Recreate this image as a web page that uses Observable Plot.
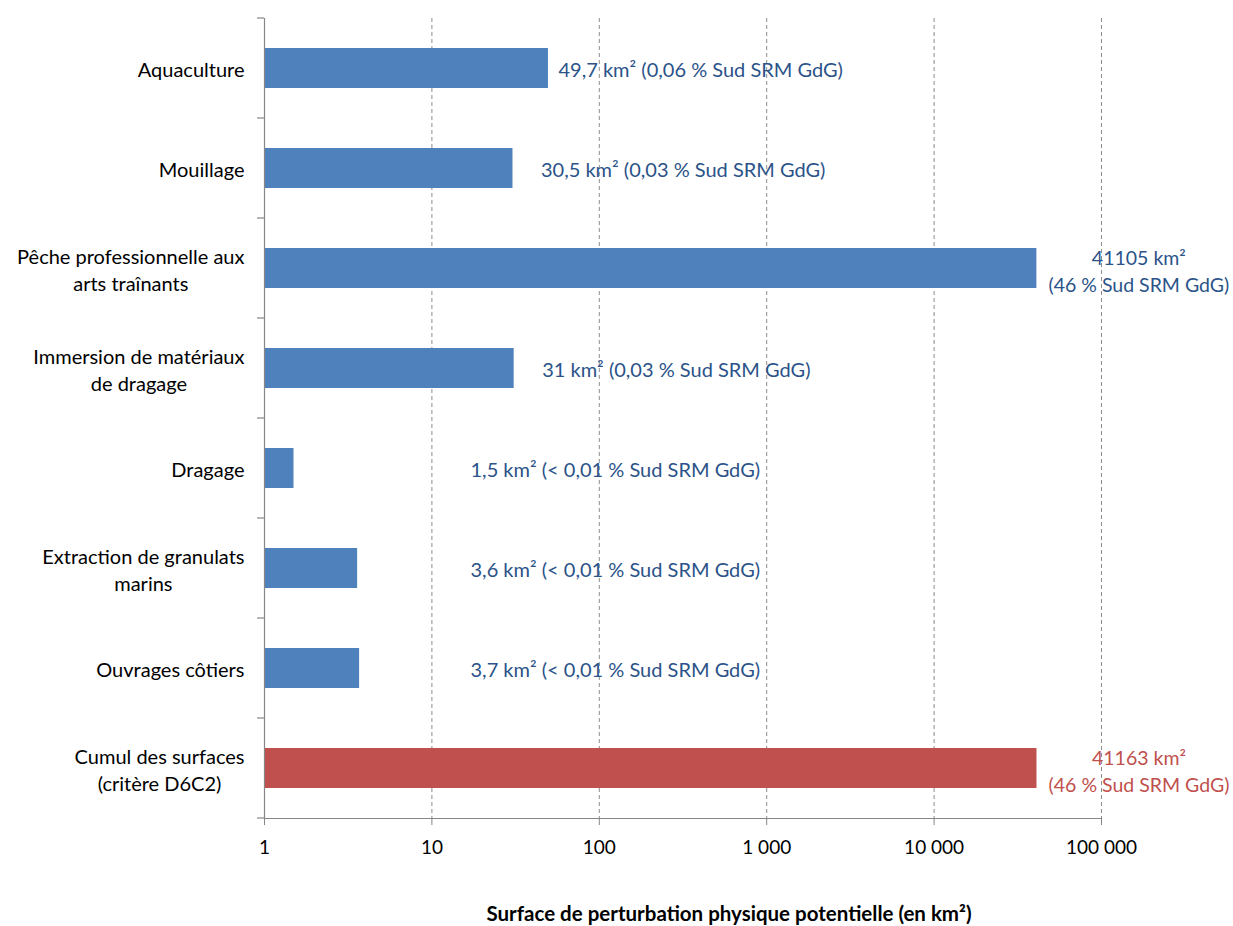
<!DOCTYPE html>
<html><head><meta charset="utf-8">
<script src="https://cdn.jsdelivr.net/npm/d3@7"></script>
<script src="https://cdn.jsdelivr.net/npm/@observablehq/plot@0.6"></script>
<style>body{margin:0;background:#fff;font-family:Lato,sans-serif}</style>
</head><body><div id="chart"></div>
<script>
const categories = [
  "Aquaculture",
  "Mouillage",
  "Pêche professionnelle aux\narts traînants",
  "Immersion de matériaux\nde dragage",
  "Dragage",
  "Extraction de granulats\nmarins",
  "Ouvrages côtiers",
  "Cumul des surfaces\n(critère D6C2)"
];
const values = [49.7, 30.5, 41105, 31, 1.5, 3.6, 3.7, 41163];
const labels = [
  "49,7 km² (0,06 % Sud SRM GdG)",
  "30,5 km² (0,03 % Sud SRM GdG)",
  "41105 km²\n(46 % Sud SRM GdG)",
  "31 km² (0,03 % Sud SRM GdG)",
  "1,5 km² (< 0,01 % Sud SRM GdG)",
  "3,6 km² (< 0,01 % Sud SRM GdG)",
  "3,7 km² (< 0,01 % Sud SRM GdG)",
  "41163 km²\n(46 % Sud SRM GdG)"
];
const xTicks = [1, 10, 100, 1000, 10000, 100000];
const xTitle = "Surface de perturbation physique potentielle (en km²)";

const BLUE = "#4F81BD", RED = "#C0504D", LBLUE = "#2B5389", AXIS = "#868686";
const data = categories.map((c, i) => ({cat: c, value: values[i], label: labels[i], total: c.startsWith("Cumul")}));
const fmt = d3.formatLocale({decimal: ",", thousands: " ", grouping: [3], currency: ["", ""]}).format(",d");

const big = data.filter(d => d.value >= 10000);
const small = data.filter(d => d.value < 10);
const first = data.filter(d => d.value >= 10 && d.value < 10000 && d.cat === "Aquaculture");
const mid = data.filter(d => d.value >= 10 && d.value < 10000 && d.cat !== "Aquaculture");
const LFS = 20;

const plot = Plot.plot({
  width: 1233, height: 926,
  marginLeft: 264, marginRight: 132, marginTop: 18, marginBottom: 108,
  style: {fontFamily: "Lato, sans-serif", fontSize: "20px", color: "#000", background: "#fff"},
  x: {type: "log", domain: [1, 100000]},
  y: {domain: categories, paddingInner: 0.6, paddingOuter: 0.3},
  marks: [
    Plot.gridX({ticks: xTicks.slice(1), stroke: "#8c8c8c", strokeOpacity: 1, strokeDasharray: "4,3"}),
    Plot.barX(data, {x1: 1, x2: "value", y: "cat", fill: d => d.total ? RED : BLUE}),
    Plot.ruleX([1], {stroke: AXIS, strokeWidth: 1.2}),
    Plot.frame({anchor: "bottom", stroke: AXIS, strokeWidth: 1.2}),
    Plot.axisX({ticks: xTicks, tickFormat: fmt, tickSize: 7, tickPadding: 15, stroke: AXIS, strokeOpacity: 1, label: null, fontSize: 19, color: "#000"}),
    Plot.axisY({tickSize: 0, tickPadding: 20, label: null, fontSize: 20, lineHeight: 1.35}),
    Plot.text(first, {x: "value", y: "cat", text: "label", textAnchor: "start", dx: 10, dy: 2, fill: LBLUE, fontSize: LFS}),
    Plot.text(mid, {x: "value", y: "cat", text: "label", textAnchor: "start", dx: 28, dy: 2, fill: LBLUE, fontSize: LFS}),
    Plot.text(small, {x: 1, y: "cat", text: "label", textAnchor: "start", dx: 206, dy: 2, fill: LBLUE, fontSize: LFS}),
    Plot.text(big, {x: "value", y: "cat", text: "label", textAnchor: "middle", dx: 102, dy: 1, lineHeight: 1.4, fill: d => d.total ? RED : LBLUE, fontSize: 19.5}),
    Plot.text([xTitle], {frameAnchor: "bottom", dx: 46, dy: 102, fontWeight: "bold", fontSize: 20.5, fill: "#000"})
  ]
});
document.getElementById("chart").appendChild(plot);

// boundary ticks on the category axis
const ys = plot.scale("y"), xs = plot.scale("x");
const x0 = xs.apply(1);
const [r0, r1] = ys.range;
const svg = d3.select(plot);
const g = svg.append("g").attr("stroke", AXIS).attr("stroke-width", 1.2);
for (let i = 0; i <= categories.length; i++) {
  const yy = r0 + i * (r1 - r0) / categories.length;
  g.append("line").attr("x1", x0 - 7).attr("x2", x0).attr("y1", yy).attr("y2", yy);
}
// center multi-line category labels within their block (right-aligned)
svg.selectAll('g[aria-label="y-axis tick label"] text').each(function() {
  const bb = this.getBBox();
  const t = d3.select(this);
  t.attr("text-anchor", "middle");
  const tr = t.attr("transform") || "";
  t.attr("transform", tr + ` translate(${-bb.width / 2},0)`);
});
</script>
</body></html>
